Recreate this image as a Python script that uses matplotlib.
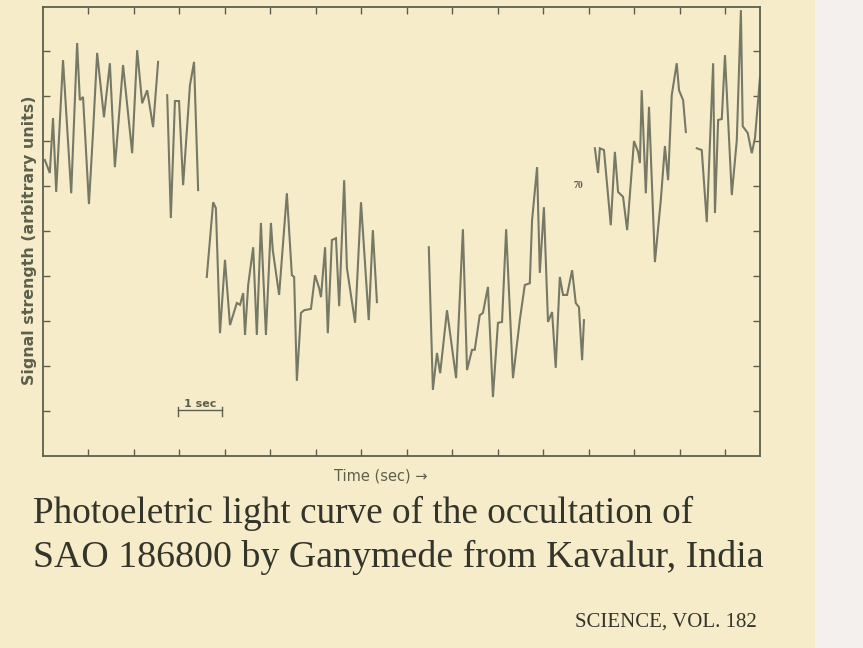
import numpy as np
import matplotlib.pyplot as plt
from matplotlib.patches import Rectangle

# ----------------------------
# 1. Data
# ----------------------------
# time in seconds from the left edge of the frame,
# signal in arbitrary units (one unit per tick on the y axis)
seg1a_time = [0.04, 0.15, 0.22, 0.29, 0.44, 0.62, 0.75, 0.81, 0.88, 1.01, 1.10,
              1.19, 1.34, 1.47, 1.58, 1.76, 1.96, 2.07, 2.18, 2.29, 2.42, 2.53]
seg1a_signal = [6.58, 6.29, 7.51, 5.87, 8.80, 5.84, 9.18, 7.91, 7.98, 5.60, 7.20,
                8.96, 7.53, 8.73, 6.42, 8.69, 6.73, 9.02, 7.84, 8.13, 7.31, 8.76]

seg1b_time = [2.73, 2.81, 2.90, 2.99, 3.08, 3.23, 3.32, 3.41]
seg1b_signal = [8.02, 5.29, 7.89, 7.89, 6.02, 8.24, 8.76, 5.91]

seg2_time = [3.60, 3.74, 3.80, 3.89, 4.00, 4.11, 4.26, 4.33, 4.40, 4.44, 4.51,
             4.62, 4.70, 4.79, 4.90, 5.01, 5.05, 5.19, 5.36, 5.47, 5.52, 5.58,
             5.67, 5.74, 5.89, 5.98, 6.07, 6.11, 6.20, 6.26, 6.35, 6.44, 6.51,
             6.62, 6.68, 6.86, 6.99, 7.16, 7.25, 7.34]
seg2_signal = [3.98, 5.64, 5.51, 2.73, 4.36, 2.91, 3.40, 3.36, 3.62, 2.69, 3.80,
               4.64, 2.69, 5.18, 2.69, 5.18, 4.58, 3.58, 5.84, 4.02, 3.98, 1.67,
               3.18, 3.24, 3.27, 4.02, 3.73, 3.53, 4.64, 2.73, 4.80, 4.84, 3.33,
               6.13, 4.18, 2.96, 5.64, 3.02, 5.02, 3.42]

seg3_time = [8.48, 8.57, 8.66, 8.73, 8.88, 9.08, 9.23, 9.32, 9.43, 9.49, 9.60,
             9.67, 9.78, 9.89, 10.00, 10.09, 10.18, 10.33, 10.48, 10.59, 10.70,
             10.75, 10.86, 10.92, 11.01, 11.10, 11.19, 11.27, 11.36, 11.43,
             11.52, 11.63, 11.71, 11.78, 11.85, 11.89]
seg3_signal = [4.64, 1.47, 2.29, 1.84, 3.24, 1.73, 5.04, 1.91, 2.36, 2.36, 3.13,
               3.18, 3.76, 1.31, 2.96, 2.98, 5.04, 1.73, 3.02, 3.80, 3.84,
               5.24, 6.42, 4.07, 5.53, 2.98, 3.20, 1.96, 3.98, 3.58,
               3.58, 4.13, 3.40, 3.31, 2.13, 3.02]

seg4_time = [12.13, 12.20, 12.24, 12.33, 12.48, 12.57, 12.64, 12.75, 12.84,
             12.99, 13.08, 13.12, 13.16, 13.25, 13.32, 13.45, 13.58, 13.67,
             13.74, 13.82, 13.93, 13.98, 14.07, 14.13]
seg4_signal = [6.84, 6.29, 6.84, 6.80, 5.13, 6.76, 5.87, 5.76, 5.02,
               7.00, 6.76, 6.51, 8.13, 5.84, 7.76, 4.31, 5.69, 6.89,
               6.13, 8.02, 8.73, 8.13, 7.91, 7.20]

seg5_time = [14.37, 14.48, 14.59, 14.73, 14.77, 14.84, 14.92, 14.99, 15.14,
             15.25, 15.34, 15.38, 15.49, 15.58, 15.65, 15.76]
seg5_signal = [6.84, 6.80, 5.20, 8.73, 5.40, 7.47, 7.49, 8.91, 5.80,
               7.02, 9.91, 7.33, 7.18, 6.73, 7.07, 8.42]

segments = [
    (seg1a_time, seg1a_signal),
    (seg1b_time, seg1b_signal),
    (seg2_time, seg2_signal),
    (seg3_time, seg3_signal),
    (seg4_time, seg4_signal),
    (seg5_time, seg5_signal),
]

time_ticks = list(range(1, 16))
signal_ticks = list(range(1, 10))

# scale bar "1 sec" and the small "70" mark
scale_bar_start = 2.97
scale_bar_length = 0.97
scale_bar_level = 1.02
mark_time = 11.76
mark_signal = 6.02

paper = "#f7ecca"
ink = "#5d5f4e"
trace = "#767965"

# ----------------------------
# 2. Figure
# ----------------------------
fig = plt.figure(figsize=(8.63, 6.48), dpi=100, facecolor=paper)
fig.patches.append(Rectangle((815 / 863, 0), 48 / 863, 1, transform=fig.transFigure,
                             facecolor="#f3f0ed", edgecolor="none", zorder=-1))

ax = fig.add_axes([43 / 863, 1 - 456 / 648, 717 / 863, 449 / 648])
ax.set_facecolor("none")

for t, s in segments:
    ax.plot(t, s, color=trace, linewidth=1.5, solid_joinstyle="miter")

ax.set_xlim(0, 15.76)
ax.set_ylim(0, 9.98)
ax.set_xticks(time_ticks)
ax.set_yticks(signal_ticks)
ax.tick_params(direction="in", length=5, width=1.0, color=ink,
               top=True, right=True, labelbottom=False, labelleft=False)
for side in ax.spines.values():
    side.set_color(ink)
    side.set_linewidth(1.3)

ax.set_ylabel("Signal strength (arbitrary units)", fontsize=11.4,
              color=ink, fontweight="bold")
ax.yaxis.set_label_coords(-0.008, 0.481)
ax.set_xlabel("Time (sec) →", fontsize=10.5, color=ink)
ax.xaxis.set_label_coords(0.471, -0.027)

# scale bar
ax.plot([scale_bar_start, scale_bar_start + scale_bar_length],
        [scale_bar_level, scale_bar_level], color=ink, linewidth=1.0)
for end in [scale_bar_start, scale_bar_start + scale_bar_length]:
    ax.plot([end, end], [scale_bar_level - 0.12, scale_bar_level + 0.08],
            color=ink, linewidth=1.0)
ax.text(scale_bar_start + scale_bar_length / 2, scale_bar_level + 0.03, "1 sec",
        ha="center", va="bottom", fontsize=8, color=ink, fontweight="bold")

ax.text(mark_time, mark_signal, "70", ha="center", va="center",
        fontsize=7, color=ink, fontweight="bold", family="Liberation Serif")

# ----------------------------
# 3. Caption
# ----------------------------
fig.text(33 / 863, 1 - 513 / 648, "Photoeletric light curve of the occultation of",
         ha="left", va="center", fontsize=26.8, color="#33342a",
         family="Liberation Serif")
fig.text(33 / 863, 1 - 557 / 648, "SAO 186800 by Ganymede from Kavalur, India",
         ha="left", va="center", fontsize=27.3, color="#33342a",
         family="Liberation Serif")
fig.text(757 / 863, 1 - 622 / 648, "SCIENCE, VOL. 182",
         ha="right", va="center", fontsize=15, color="#33342a",
         family="Liberation Serif")

plt.savefig("out.png", dpi=100, facecolor=fig.get_facecolor())
plt.close()
